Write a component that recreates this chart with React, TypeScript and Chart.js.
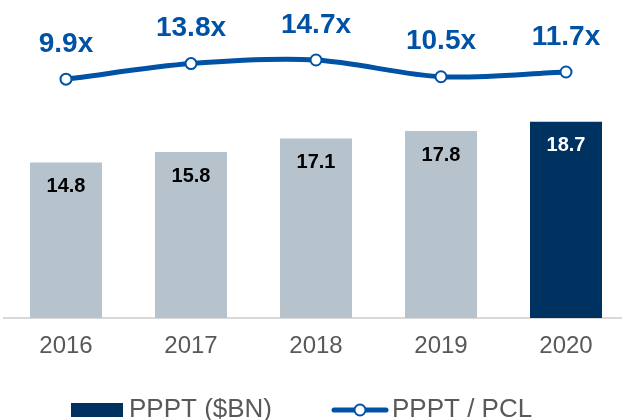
import React, { useEffect, useRef } from "react";
import { Chart, registerables } from "chart.js";

Chart.register(...registerables);

const categories = ["2016", "2017", "2018", "2019", "2020"];
const ppptValues = [14.8, 15.8, 17.1, 17.8, 18.7];
const ratioValues = [9.9, 13.8, 14.7, 10.5, 11.7];
const ratioLabels = ["9.9x", "13.8x", "14.7x", "10.5x", "11.7x"];
const legendLabels = ["PPPT ($BN)", "PPPT / PCL"];

const GRAY_BAR = "#b7c3cc";
const NAVY = "#003261";
const BLUE = "#0052a5";
const barColors = [GRAY_BAR, GRAY_BAR, GRAY_BAR, GRAY_BAR, NAVY];
const barLabelColors = ["#000000", "#000000", "#000000", "#000000", "#ffffff"];
const FONT = "Arial, 'Liberation Sans', sans-serif";

const labelsPlugin = {
  id: "valueLabels",
  afterDatasetsDraw(chart: any) {
    const ctx = chart.ctx;
    ctx.save();
    ctx.textAlign = "center";
    ctx.textBaseline = "middle";
    const barMeta = chart.getDatasetMeta(0);
    ctx.font = `bold 20px ${FONT}`;
    barMeta.data.forEach((el: any, i: number) => {
      ctx.fillStyle = barLabelColors[i];
      ctx.fillText(ppptValues[i].toFixed(1), el.x, el.y + 24);
    });
    const lineMeta = chart.getDatasetMeta(1);
    ctx.font = `bold 28px ${FONT}`;
    ctx.fillStyle = BLUE;
    lineMeta.data.forEach((el: any, i: number) => {
      ctx.fillText(ratioLabels[i], el.x, el.y - 35);
    });
    ctx.restore();
  },
  afterDraw(chart: any) {
    const ctx = chart.ctx;
    ctx.save();
    ctx.font = `26px ${FONT}`;
    ctx.textAlign = "left";
    ctx.textBaseline = "alphabetic";
    // bar legend item
    ctx.fillStyle = NAVY;
    ctx.fillRect(71, 403, 52, 14);
    ctx.fillStyle = "#595959";
    ctx.fillText(legendLabels[0], 129, 417);
    // line legend item
    ctx.strokeStyle = BLUE;
    ctx.lineWidth = 5;
    ctx.lineCap = "round";
    ctx.beginPath();
    ctx.moveTo(334, 410);
    ctx.lineTo(386, 410);
    ctx.stroke();
    ctx.beginPath();
    ctx.arc(360, 410, 5.5, 0, Math.PI * 2);
    ctx.fillStyle = "#ffffff";
    ctx.fill();
    ctx.lineWidth = 2;
    ctx.stroke();
    ctx.fillStyle = "#595959";
    ctx.fillText(legendLabels[1], 392, 417);
    ctx.restore();
  },
};

export default function App() {
  const ref = useRef<HTMLCanvasElement>(null);
  useEffect(() => {
    if (!ref.current) return;
    const chart = new Chart(ref.current, {
      data: {
        labels: categories,
        datasets: [
          {
            type: "bar",
            label: legendLabels[0],
            data: ppptValues,
            backgroundColor: barColors,
            yAxisID: "y",
            barPercentage: 0.576,
            categoryPercentage: 1,
            order: 2,
          },
          {
            type: "line",
            label: legendLabels[1],
            data: ratioValues,
            borderColor: BLUE,
            borderWidth: 5,
            pointRadius: 5.5,
            pointBorderWidth: 2,
            pointBackgroundColor: "#ffffff",
            pointBorderColor: BLUE,
            tension: 0.3,
            yAxisID: "y1",
            order: 1,
            clip: false,
          },
        ],
      } as any,
      options: {
        responsive: false,
        animation: false,
        devicePixelRatio: 1,
        layout: { autoPadding: false, padding: { left: 3.5, right: 3.5, top: 3, bottom: 62 } },
        plugins: { legend: { display: false }, tooltip: { enabled: false } },
        scales: {
          x: {
            grid: { display: false, drawTicks: false },
            border: { display: true, color: "#d9d9d9", width: 2 },
            ticks: { font: { size: 24, family: FONT }, color: "#595959", padding: 14 },
            afterFit: (s: any) => {
              s.height = 40;
            },
          },
          y: { display: false, min: 0, max: 30 },
          y1: { display: false, min: -50, max: 29 },
        },
      } as any,
      plugins: [labelsPlugin],
    });
    return () => chart.destroy();
  }, []);
  return (
    <div style={{ position: "fixed", left: 0, top: 0, width: 622, height: 420, overflow: "hidden", background: "#fff" }}>
      <canvas ref={ref} width={632} height={420} style={{ width: 632, height: 420, display: "block" }} />
    </div>
  );
}
